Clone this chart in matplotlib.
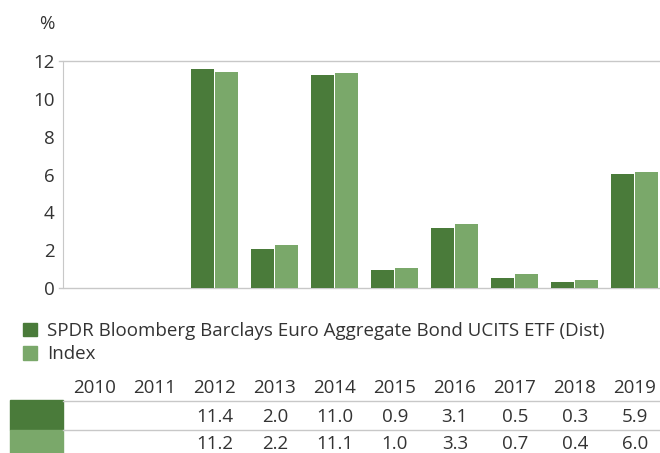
import matplotlib.pyplot as plt
from matplotlib.patches import Rectangle, Patch
from matplotlib.lines import Line2D

plt.rcParams['font.family'] = ['Open Sans', 'DejaVu Sans']

years = ['2010', '2011', '2012', '2013', '2014', '2015', '2016', '2017', '2018', '2019']
# bar heights
fund_bars = [0, 0, 11.6, 2.05, 11.25, 0.95, 3.17, 0.53, 0.32, 6.02]
index_bars = [0, 0, 11.4, 2.27, 11.35, 1.06, 3.38, 0.74, 0.42, 6.12]
# values printed in the table
fund_table = ['', '', '11.4', '2.0', '11.0', '0.9', '3.1', '0.5', '0.3', '5.9']
index_table = ['', '', '11.2', '2.2', '11.1', '1.0', '3.3', '0.7', '0.4', '6.0']
fund_name = 'SPDR Bloomberg Barclays Euro Aggregate Bond UCITS ETF (Dist)'
index_name = 'Index'

dark = '#4a7b3a'
light = '#7aa86a'
grey = '#c8c8c8'
txt = '#333333'
fs = 13.5

W, H = 660, 453
fig = plt.figure(figsize=(6.6, 4.53), dpi=100)
ax = fig.add_axes([63 / W, 1 - 288 / H, 597 / W, 227 / H])

x = list(range(len(years)))
ax.bar([i - 0.2 for i in x], fund_bars, width=0.38, color=dark)
ax.bar([i + 0.2 for i in x], index_bars, width=0.38, color=light)

ax.set_xlim(-0.53, 9.42)
ax.set_ylim(0, 12)
ax.set_yticks(range(0, 13, 2))
ax.tick_params(axis='y', length=0, pad=6, labelsize=fs, labelcolor=txt)
ax.set_xticks([])
for s in ['top', 'right', 'bottom']:
    ax.spines[s].set_visible(False)
ax.spines['left'].set_color(grey)
for yv in [0, 12]:
    ax.plot([-0.6, 9.42], [yv, yv], color=grey, lw=1, clip_on=False, zorder=0)

fig.text(47 / W, 1 - 24 / H, '%', fontsize=fs, color=txt, ha='center', va='center')

# legend
handles = [Patch(color=dark), Patch(color=light)]
fig.legend(handles, [fund_name, index_name], loc='upper left',
           bbox_to_anchor=(8 / W, 1 - 307 / H), frameon=False, fontsize=fs,
           handlelength=0.75, handleheight=0.75, handletextpad=0.55,
           labelspacing=0.28, labelcolor=txt, borderpad=0.3)

# table
tr = ax.get_xaxis_transform()
def ay(p):
    return (288 - p) / 227

for i, yr in enumerate(years):
    ax.text(i, ay(388), yr, transform=tr, ha='center', va='center', fontsize=fs, color=txt)
    ax.text(i, ay(417), fund_table[i], transform=tr, ha='center', va='center', fontsize=fs, color=txt)
    ax.text(i, ay(444), index_table[i], transform=tr, ha='center', va='center', fontsize=fs, color=txt)

for p in [401, 430]:
    fig.add_artist(Line2D([63 / W, 1], [1 - p / H, 1 - p / H], color=grey, lw=1,
                          transform=fig.transFigure))
fig.add_artist(Rectangle((10 / W, 1 - 430 / H), 53 / W, 30 / H, color=dark,
                         transform=fig.transFigure))
fig.add_artist(Rectangle((10 / W, 0), 53 / W, 1 - 430 / H, color=light,
                         transform=fig.transFigure))

fig.savefig('out.png', dpi=100)
